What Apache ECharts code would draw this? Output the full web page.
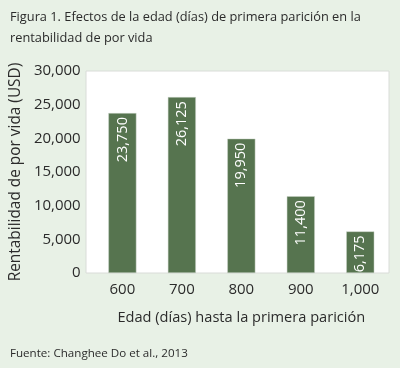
<!DOCTYPE html>
<html><head><meta charset="utf-8">
<script src="https://cdn.jsdelivr.net/npm/echarts@6/dist/echarts.min.js"></script>
<style>html,body{margin:0;padding:0;background:#e8f1e6;}#c{width:400px;height:368px;}</style>
</head><body><div id="c"></div>
<script>
const categories = ['600', '700', '800', '900', '1,000'];
const values = [23750, 26125, 19950, 11400, 6175];
const yTicks = [0, 5000, 10000, 15000, 20000, 25000, 30000];
const titleText = 'Figura 1. Efectos de la edad (días) de primera parición en la\nrentabilidad de por vida';
const sourceText = 'Fuente: Changhee Do et al., 2013';
const xName = 'Edad (días) hasta la primera parición';
const yName = 'Rentabilidad de por vida (USD)';

const fmt = v => v.toLocaleString('en-US');
const FONT = 'Open Sans';
const chart = echarts.init(document.getElementById('c'), null, {renderer: 'canvas'});
chart.setOption({
  backgroundColor: '#e8f1e6',
  textStyle: {fontFamily: FONT},
  title: [{
    text: titleText, left: 5, top: 2,
    textStyle: {fontFamily: FONT, fontSize: 12.8, fontWeight: 'normal', color: '#2b2b2b', lineHeight: 21}
  }, {
    text: sourceText, left: 5, top: 343,
    textStyle: {fontFamily: FONT, fontSize: 11.6, fontWeight: 'normal', color: '#2b2b2b'}
  }],
  grid: [
    {left: 92, top: 71, right: 10, bottom: 95, show: false},
    {left: 86, top: 71, right: 11, bottom: 95, show: true, backgroundColor: '#ffffff', borderColor: '#d9dcd8', borderWidth: 1, z: 0}
  ],
  xAxis: [{
    type: 'category', data: categories, gridIndex: 0,
    axisLine: {show: false}, axisTick: {show: false},
    axisLabel: {fontSize: 15, color: '#2b2b2b', margin: 9},
    name: xName, nameLocation: 'middle', nameGap: 37,
    nameTextStyle: {fontSize: 14.6, color: '#2b2b2b'}
  }, {
    type: 'category', gridIndex: 1, show: false, data: categories
  }],
  yAxis: [{
    type: 'value', gridIndex: 0, min: yTicks[0], max: yTicks[yTicks.length - 1], interval: yTicks[1] - yTicks[0],
    splitLine: {show: false}, axisLine: {show: false}, axisTick: {show: false},
    axisLabel: {fontSize: 15, color: '#2b2b2b', margin: 12, formatter: v => fmt(v)},
    name: yName, nameLocation: 'middle', nameGap: 67,
    nameTextStyle: {fontSize: 15.4, color: '#2b2b2b'}
  }, {
    type: 'value', gridIndex: 1, show: false, splitLine: {show: false}
  }],
  series: [{
    type: 'bar', data: values, barWidth: 28, xAxisIndex: 0, yAxisIndex: 0, z: 3,
    itemStyle: {color: '#56744f', borderColor: '#c9d3c6', borderWidth: 0.5},
    label: {
      show: true, position: 'insideTop', rotate: 90, align: 'right', verticalAlign: 'middle',
      distance: 4, color: '#ffffff', fontSize: 14.5, formatter: p => fmt(p.value)
    }
  }]
});
</script></body></html>
